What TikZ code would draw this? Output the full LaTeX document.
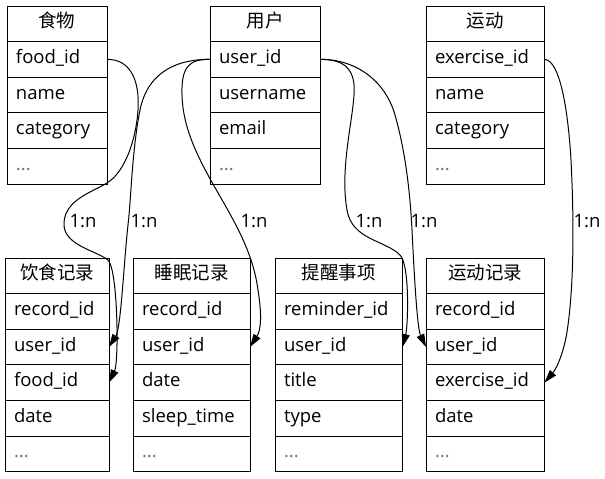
\documentclass[tikz,border=0pt]{standalone}
\usepackage{fontspec}
\setmainfont{Open Sans}
\newfontfamily\cjk{Noto Sans CJK SC}
\usetikzlibrary{arrows.meta}
\newcommand\fsz{\fontsize{18.5}{22}\selectfont}
\begin{document}
\begin{tikzpicture}[x=1pt,y=-1pt,
  fld/.style={draw, line width=1pt, outer sep=0pt, inner ysep=0pt, inner xsep=9pt,
    minimum height=35.6pt, text width=#1, text height=13pt, text depth=5pt,
    align=left, anchor=north west, font=\fsz},
  hdr/.style={fld=#1, align=center, font=\cjk\fsz},
  more/.style={fld=#1, text=black!55},
  rel/.style={line width=1pt, -{Triangle[length=13pt,width=8pt]}},
  card/.style={font=\fsz, inner sep=0pt}]
\useasboundingbox (0,0) rectangle (605,479);
\fill[white] (0,0) rectangle (605,479);

% ---- top row ----
\node[hdr=82pt] (food) at (7,6) {食物};
\foreach \n/\t [count=\i] in {food-id/food\_id, food-name/name, food-cat/category}
  \node[fld=82pt] (\n) at (7,6+35.6*\i) {\t};
\node[more=82pt] (food-more) at (7,6+35.6*4) {...};

\node[hdr=92pt] (user) at (210,6) {用户};
\foreach \n/\t [count=\i] in {user-id/user\_id, user-name/username, user-email/email}
  \node[fld=92pt] (\n) at (210,6+35.6*\i) {\t};
\node[more=92pt] (user-more) at (210,6+35.6*4) {...};

\node[hdr=100.5pt] (ex) at (426,6) {运动};
\foreach \n/\t [count=\i] in {ex-id/exercise\_id, ex-name/name, ex-cat/category}
  \node[fld=100.5pt] (\n) at (426,6+35.6*\i) {\t};
\node[more=100.5pt] (ex-more) at (426,6+35.6*4) {...};

% ---- bottom row ----
\node[hdr=86pt] (diet) at (5,258) {饮食记录};
\foreach \n/\t [count=\i] in {diet-rid/record\_id, diet-uid/user\_id, diet-fid/food\_id, diet-date/date}
  \node[fld=86pt] (\n) at (5,258+35.6*\i) {\t};
\node[more=86pt] (diet-more) at (5,258+35.6*5) {...};

\node[hdr=99pt] (sleep) at (133,258) {睡眠记录};
\foreach \n/\t [count=\i] in {sleep-rid/record\_id, sleep-uid/user\_id, sleep-date/date, sleep-time/sleep\_time}
  \node[fld=99pt] (\n) at (133,258+35.6*\i) {\t};
\node[more=99pt] (sleep-more) at (133,258+35.6*5) {...};

\node[hdr=109.5pt] (rem) at (275,258) {提醒事项};
\foreach \n/\t [count=\i] in {rem-rid/reminder\_id, rem-uid/user\_id, rem-title/title, rem-type/type}
  \node[fld=109.5pt] (\n) at (275,258+35.6*\i) {\t};
\node[more=109.5pt] (rem-more) at (275,258+35.6*5) {...};

\node[hdr=100.5pt] (exr) at (426,258) {运动记录};
\foreach \n/\t [count=\i] in {exr-rid/record\_id, exr-uid/user\_id, exr-eid/exercise\_id, exr-date/date}
  \node[fld=100.5pt] (\n) at (426,258+35.6*\i) {\t};
\node[more=100.5pt] (exr-more) at (426,258+35.6*5) {...};

% ---- relations ----
\draw[rel] (food-id.east) .. controls (130,59) and (140,80) .. (138,110)
  .. controls (136,140) and (125,172) .. (107,183)
  .. controls (90,193) and (66,200) .. (64,222)
  .. controls (62,245) and (95,250) .. (108,260)
  .. controls (118,270) and (119,362) .. (diet-fid.east);
\draw[rel] (user-id.west) .. controls (180,59) and (148,70) .. (140,110)
  .. controls (132,150) and (131,200) .. (128,225)
  .. controls (124,260) and (121,328) .. (diet-uid.east);
\draw[rel] (user-id.west) .. controls (190,59) and (181,66) .. (182,95)
  .. controls (183,135) and (205,170) .. (225,205)
  .. controls (242,235) and (254,260) .. (258,290)
  .. controls (262,315) and (261,330) .. (sleep-uid.east);
\draw[rel] (user-id.east) .. controls (345,59) and (356,70) .. (354,95)
  .. controls (352,125) and (340,170) .. (347,210)
  .. controls (352,240) and (385,240) .. (400,255)
  .. controls (410,265) and (408,326) .. (rem-uid.east);
\draw[rel] (user-id.east) .. controls (355,59) and (385,80) .. (395,115)
  .. controls (405,150) and (410,190) .. (412,230)
  .. controls (414,270) and (417,328) .. (exr-uid.west);
\draw[rel] (ex-id.east) .. controls (560,60) and (568,110) .. (571,160)
  .. controls (574,220) and (574,280) .. (568,325)
  .. controls (565,350) and (557,368) .. (exr-eid.east);

% ---- cardinalities ----
\node[card] (c1) at (83,221.5) {1:n};
\node[card] (c2) at (144,221.5) {1:n};
\node[card] (c3) at (254,221.5) {1:n};
\node[card] (c4) at (369,221.5) {1:n};
\node[card] (c5) at (424,221.5) {1:n};
\node[card] (c6) at (587,221.5) {1:n};
\end{tikzpicture}
\end{document}
